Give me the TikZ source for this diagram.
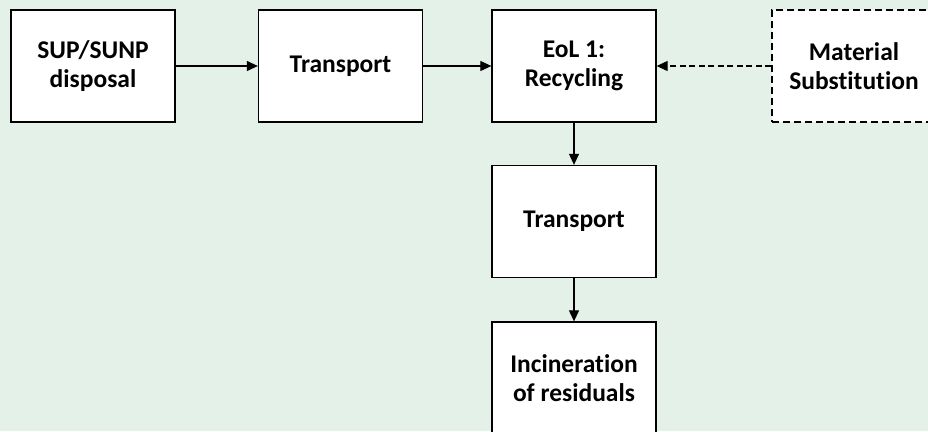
\documentclass[tikz,border=0pt]{standalone}
\usepackage{fontspec}
\setmainfont{Carlito}[Ligatures=NoCommon]
\usetikzlibrary{arrows.meta}

\definecolor{bggreen}{RGB}{227,241,233}

\begin{document}
\begin{tikzpicture}[x=1pt, y=1pt,
        box/.style={draw, line width=1.3pt, fill=white, minimum width=164pt, minimum height=112pt,
            inner sep=0pt, align=center, font=\fontsize{25.5}{28.5}\selectfont\bfseries},
        optbox/.style={box, dashed, dash pattern=on 7pt off 4pt},
        flow/.style={line width=1.1pt, -{Triangle[length=11pt, width=10pt]}},
        optflow/.style={flow, dash pattern=on 6pt off 3.5pt}]
        \clip (0, 0) rectangle (928, -431);
        \fill[bggreen] (0, 0) rectangle (928, -431);

        \node[box] (disp) at (93, -66) {SUP/SUNP\\disposal};
        \node[box] (trans1) at (340.5, -66) {Transport};
        \node[box] (recyc) at (574, -66) {EoL 1:\\Recycling};
        \node[optbox] (subst) at (854, -66) {Material\\Substitution};

        \node[box] (trans2) at (574, -221.5) {Transport};
        \node[box] (incin) at (574, -378) {Incineration\\of residuals};

        \draw[flow] (disp) -- (trans1);
        \draw[flow] (trans1) -- (recyc);
        \draw[optflow] (subst) -- (recyc);

        \draw[flow] (recyc) -- (trans2);
        \draw[flow] (trans2) -- (incin);
    \end{tikzpicture}
\end{document}
